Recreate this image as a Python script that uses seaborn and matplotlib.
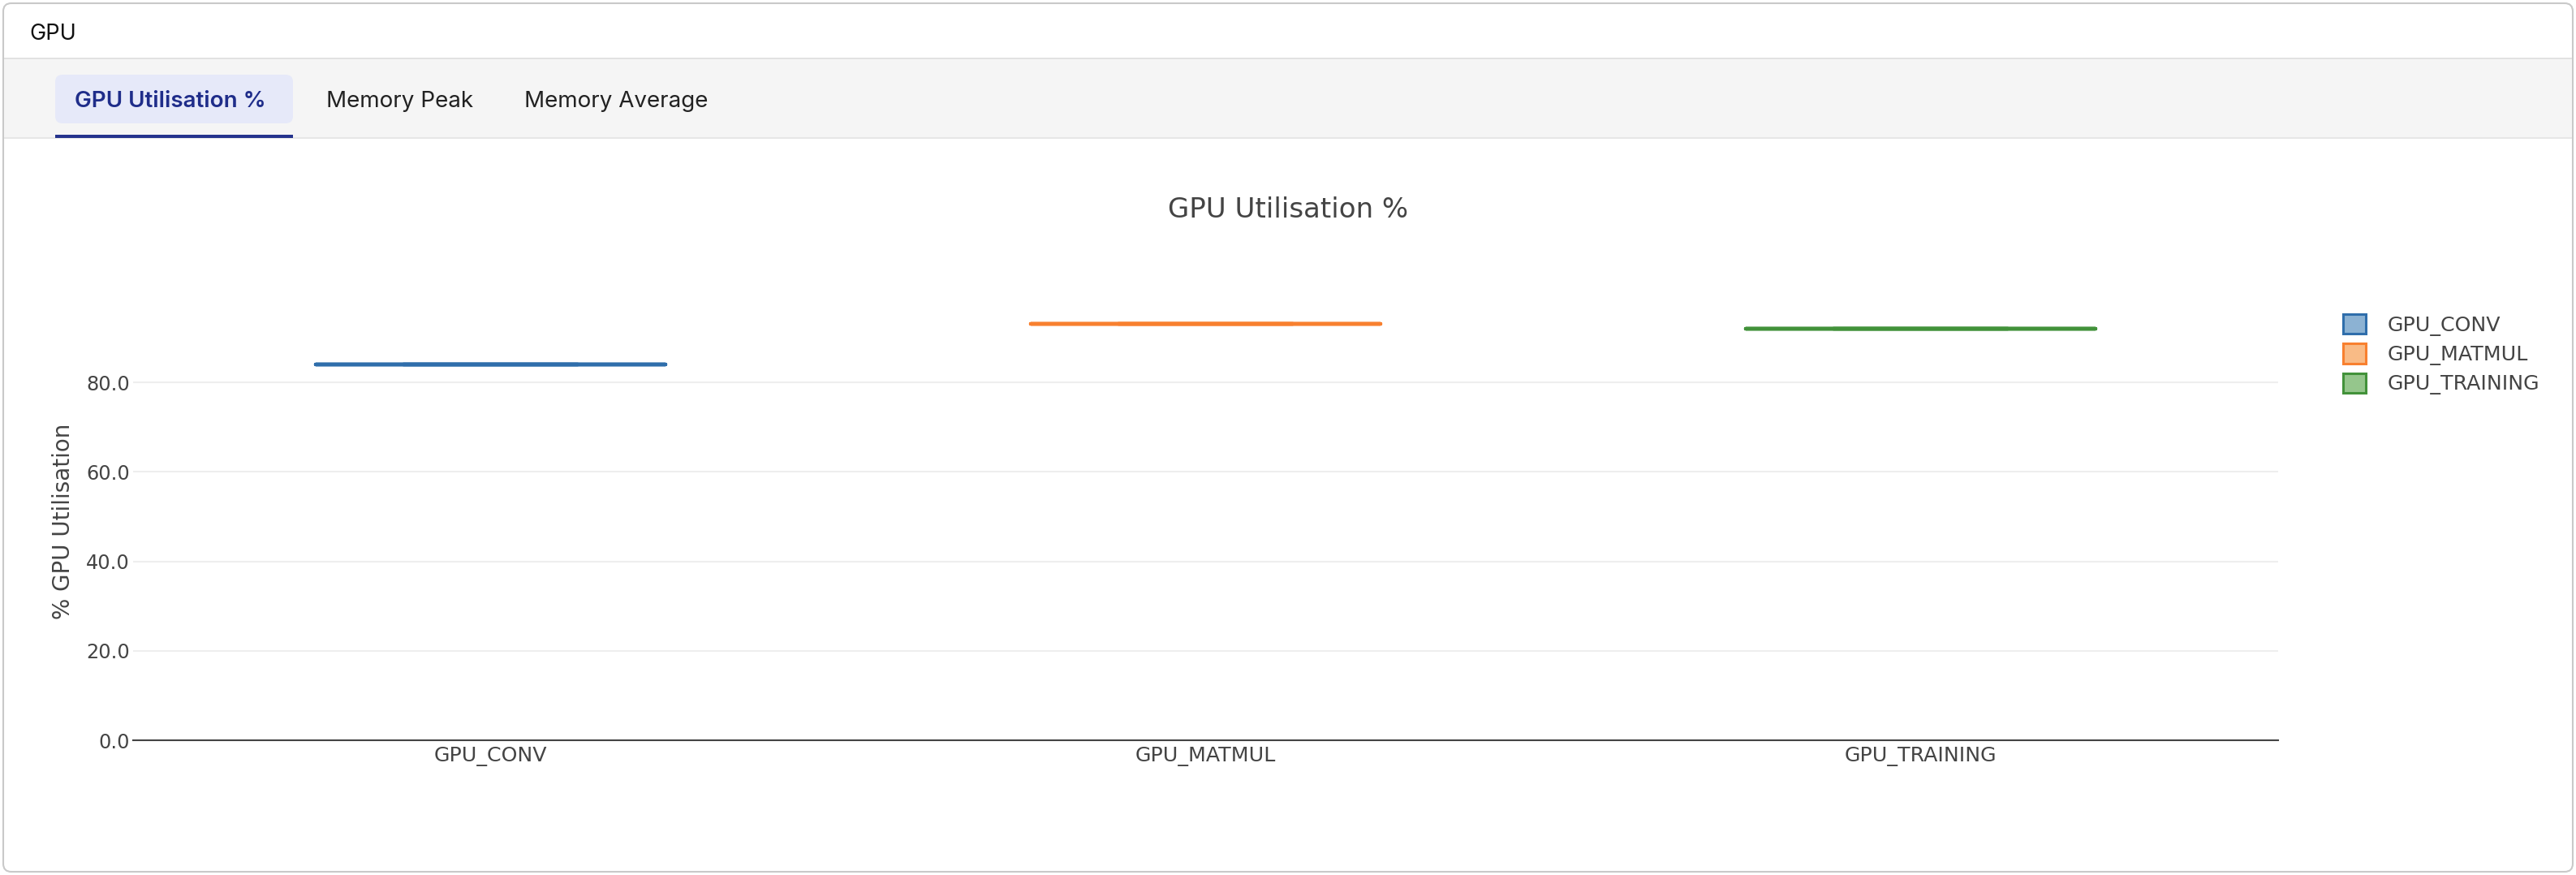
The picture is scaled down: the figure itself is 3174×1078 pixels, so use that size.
import matplotlib
matplotlib.use("Agg")
import matplotlib.pyplot as plt
import seaborn as sns
import pandas as pd
from matplotlib.patches import FancyBboxPatch, Rectangle, Patch
from matplotlib.transforms import IdentityTransform

# ---- data ----
categories = ["GPU_CONV", "GPU_MATMUL", "GPU_TRAINING"]
gpu_util = [84.1, 93.1, 92.1]
y_ticks = [0, 20, 40, 60, 80]
tabs = ["GPU Utilisation %", "Memory Peak", "Memory Average"]

edge_colors = ["#2f6eab", "#f8802f", "#42923a"]
fill_colors = ["#8cb2d3", "#f9bb86", "#95c68c"]

W, H = 3174, 1078
sns.set_theme(style="white")
plt.rcParams["font.family"] = ["DejaVu Sans"]

fig = plt.figure(figsize=(W / 100, H / 100), dpi=100)
fig.patch.set_facecolor("white")

def px(y):
    return H - y

ident = IdentityTransform()
# card
fig.patches.append(FancyBboxPatch((4, px(1074)), 3166, 1070,
                                  boxstyle="round,pad=0,rounding_size=10",
                                  facecolor="white", edgecolor="#c9c9c9", linewidth=1.5,
                                  transform=ident, zorder=-10))
# tab bar
fig.patches.append(Rectangle((5, px(170)), 3164, 98, facecolor="#f5f5f5",
                             edgecolor="none", transform=ident, zorder=-9))
fig.patches.append(Rectangle((5, px(73)), 3164, 2, facecolor="#e2e2e2",
                             edgecolor="none", transform=ident, zorder=-8))
fig.patches.append(Rectangle((5, px(171)), 3164, 2, facecolor="#e6e6e6",
                             edgecolor="none", transform=ident, zorder=-8))
fig.patches.append(FancyBboxPatch((68, px(152)), 293, 60,
                                  boxstyle="round,pad=0,rounding_size=9",
                                  facecolor="#e6e9f9", edgecolor="none",
                                  transform=ident, zorder=-7))
fig.patches.append(Rectangle((68, px(170)), 293, 4, facecolor="#25338c",
                             edgecolor="none", transform=ident, zorder=-6))

ui_font = ["Inter", "DejaVu Sans"]
fig.text(36 / W, 1 - 49 / H, "GPU", fontsize=19.5, family=ui_font,
         color="#111111", va="baseline", ha="left")
tab_x = [92, 402, 646]
for i, (t, x) in enumerate(zip(tabs, tab_x)):
    fig.text(x / W, 1 - 132 / H, t, fontsize=20, family=ui_font,
             fontweight="semibold" if i == 0 else "normal",
             color="#1f2d8a" if i == 0 else "#222222", va="baseline", ha="left")

# chart title
fig.text(1587 / W, 1 - 259 / H, "GPU Utilisation %", fontsize=24.5,
         color="#444444", ha="center", va="center")

# axes
left, right, bottom, top = 164, 2807, 912, 372
ax = fig.add_axes([left / W, 1 - bottom / H, (right - left) / W, (bottom - top) / H])
ax.set_facecolor("none")

df = pd.DataFrame({"name": categories, "value": gpu_util})
sns.boxplot(data=df, x="name", y="value", hue="name", order=categories,
            hue_order=categories, palette=edge_colors, fill=False,
            width=0.49, linewidth=3.2, legend=False, ax=ax, showfliers=False)

ax.set_xlim(-0.5, 2.5)
ax.set_ylim(0, 98)
ax.set_yticks(y_ticks)
ax.set_yticklabels([f"{v:.1f}" for v in y_ticks])
ax.yaxis.grid(True, color="#eeeeee", linewidth=1.5)
ax.xaxis.grid(False)
ax.set_axisbelow(True)
for s in ["top", "right", "left"]:
    ax.spines[s].set_visible(False)
ax.spines["bottom"].set_color("#444444")
ax.spines["bottom"].set_linewidth(1.5)
ax.tick_params(axis="both", length=0, labelcolor="#444444")
ax.tick_params(axis="y", pad=3, labelsize=17.3)
ax.tick_params(axis="x", pad=6, labelsize=18.2)
ax.set_xlabel("")
ax.set_ylabel("% GPU Utilisation", fontsize=20, color="#444444", va="center")
ax.yaxis.set_label_coords((78 - left) / (right - left), 0.5)

handles = [Patch(facecolor=f, edgecolor=e, linewidth=2.2) for f, e in zip(fill_colors, edge_colors)]
fig.legend(handles, categories, loc="upper left",
           bbox_to_anchor=(2887 / W, 1 - 387 / H), frameon=False, fontsize=18.2,
           handlelength=1.1, handleheight=1.1, handletextpad=1.05,
           labelspacing=0.38, borderpad=0, borderaxespad=0, labelcolor="#444444")

fig.savefig("out.png", dpi=100)
